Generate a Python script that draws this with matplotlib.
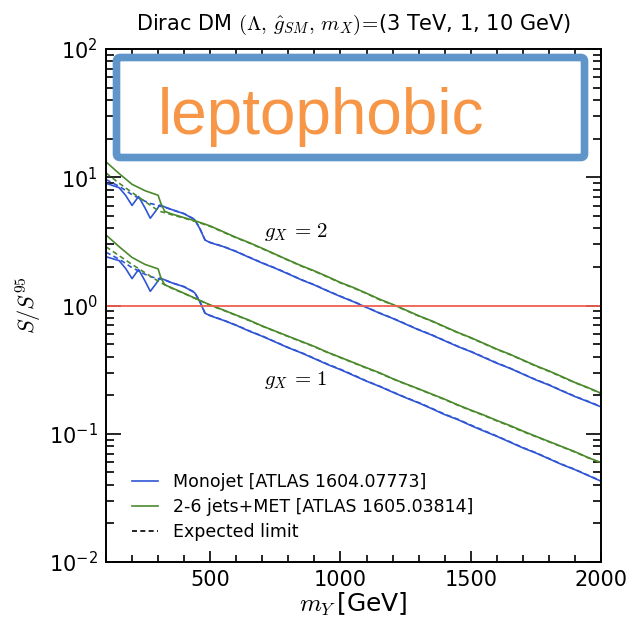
import matplotlib
matplotlib.use("Agg")
import matplotlib.pyplot as plt
import matplotlib.patches as mpatches
from matplotlib.ticker import MultipleLocator, LogLocator, NullFormatter

# ---------------- data ----------------
mass = [100, 150, 200, 250, 300, 310, 325, 350, 400, 450, 500, 550, 600, 650, 700,
        750, 800, 850, 900, 950, 1000, 1050, 1100, 1150, 1200, 1250, 1300, 1350,
        1400, 1450, 1500, 1550, 1600, 1650, 1700, 1750, 1800, 1850, 1900, 1950, 2000]

# 2-6 jets + MET, observed, g_X = 2
jets_obs_g2 = [13.2, 10.7, 8.81, 7.85, 7.24, 6.31, 5.43, 5.19, 4.84, 4.52, 4.17, 3.76,
               3.39, 3.09, 2.79, 2.51, 2.26, 2.04, 1.86, 1.68, 1.51, 1.38, 1.245, 1.12,
               1.02, 0.923, 0.832, 0.759, 0.684, 0.617, 0.562, 0.507, 0.457, 0.417,
               0.376, 0.339, 0.309, 0.279, 0.251, 0.229, 0.207]
# 2-6 jets + MET, expected, g_X = 2
jets_exp_g2 = [10.8, 9.0, 7.6, 6.46, 5.5, 5.4, 5.3, 5.12, 4.80, 4.48, 4.14, 3.73,
               3.37, 3.07, 2.77, 2.50, 2.25, 2.03, 1.85, 1.67, 1.50, 1.37, 1.24, 1.11,
               1.015, 0.918, 0.828, 0.755, 0.680, 0.614, 0.559, 0.504, 0.455, 0.415,
               0.374, 0.337, 0.307, 0.277, 0.250, 0.228, 0.206]

mass_mono = [100, 150, 175, 200, 225, 250, 270, 290, 307, 330, 350, 400, 440, 460, 480,
             500, 550, 600, 650, 700, 750, 800, 850, 900, 950, 1000, 1050, 1100, 1150,
             1200, 1250, 1300, 1350, 1400, 1450, 1500, 1550, 1600, 1650, 1700, 1750,
             1800, 1850, 1900, 1950, 2000]
# Monojet, observed, g_X = 2
mono_obs_g2 = [8.97, 8.3, 7.24, 6.03, 7.08, 5.75, 4.79, 5.43, 6.08, 5.82, 5.62, 5.19,
               4.68, 3.98, 3.24, 3.09, 2.88, 2.63, 2.37, 2.14, 1.95, 1.76, 1.585, 1.445,
               1.30, 1.175, 1.07, 0.966, 0.871, 0.794, 0.716, 0.646, 0.589, 0.531,
               0.479, 0.437, 0.394, 0.355, 0.324, 0.292, 0.263, 0.240, 0.216, 0.195,
               0.178, 0.162]
# Monojet, expected, g_X = 2
mono_exp_g2 = [9.6, 8.5, 7.9, 7.3, 6.9, 6.5, 6.25, 6.1, 5.95, 5.8, 5.6, 5.2,
               4.7, 4.0, 3.25, 3.1, 2.89, 2.64, 2.38, 2.15, 1.96, 1.77, 1.59, 1.45,
               1.305, 1.18, 1.075, 0.970, 0.875, 0.797, 0.719, 0.649, 0.591, 0.533,
               0.481, 0.439, 0.396, 0.357, 0.325, 0.293, 0.264, 0.241, 0.217, 0.196,
               0.179, 0.163]

# 2-6 jets + MET, observed, g_X = 1
jets_obs_g1 = [3.55, 2.88, 2.37, 2.09, 1.93, 1.66, 1.45, 1.38, 1.245, 1.12, 1.01, 0.923,
               0.841, 0.767, 0.692, 0.631, 0.575, 0.525, 0.479, 0.432, 0.394, 0.359,
               0.327, 0.299, 0.269, 0.245, 0.224, 0.204, 0.186, 0.168, 0.153, 0.140,
               0.127, 0.116, 0.105, 0.0955, 0.0871, 0.0794, 0.0724, 0.0653, 0.0596]
# 2-6 jets + MET, expected, g_X = 1
jets_exp_g1 = [2.87, 2.45, 2.09, 1.80, 1.55, 1.50, 1.46, 1.37, 1.24, 1.115, 1.005, 0.918,
               0.837, 0.763, 0.689, 0.628, 0.572, 0.522, 0.477, 0.430, 0.392, 0.357,
               0.325, 0.297, 0.268, 0.244, 0.223, 0.203, 0.185, 0.167, 0.152, 0.139,
               0.126, 0.115, 0.104, 0.095, 0.0866, 0.079, 0.072, 0.065, 0.0593]
# Monojet, observed, g_X = 1
mono_obs_g1 = [2.40, 2.24, 1.95, 1.62, 1.91, 1.55, 1.29, 1.46, 1.64, 1.57, 1.51, 1.40,
               1.26, 1.07, 0.871, 0.832, 0.767, 0.700, 0.631, 0.575, 0.519, 0.468,
               0.427, 0.385, 0.347, 0.316, 0.285, 0.257, 0.234, 0.211, 0.191, 0.174,
               0.157, 0.141, 0.129, 0.116, 0.105, 0.0955, 0.0861, 0.0776, 0.0708,
               0.0638, 0.0575, 0.0525, 0.0473, 0.0427]
# Monojet, expected, g_X = 1
mono_exp_g1 = [2.6, 2.3, 2.13, 1.97, 1.86, 1.75, 1.68, 1.64, 1.61, 1.57, 1.51, 1.40,
               1.27, 1.08, 0.875, 0.836, 0.770, 0.703, 0.634, 0.578, 0.521, 0.470,
               0.429, 0.387, 0.349, 0.318, 0.287, 0.258, 0.235, 0.212, 0.192, 0.175,
               0.158, 0.142, 0.130, 0.117, 0.106, 0.0960, 0.0866, 0.0780, 0.0711,
               0.0641, 0.0578, 0.0527, 0.0475, 0.0429]

legend_labels = ["Monojet [ATLAS 1604.07773]", "2-6 jets+MET [ATLAS 1605.03814]",
                 "Expected limit"]
curve_labels = [r"$g_X\,=\,2$", r"$g_X\,=\,1$"]
label_mass = [830, 830]
label_value = [3.74, 0.262]

# ---------------- styling ----------------
BLUE = "#2f55d4"
GREEN = "#4b8a2c"
RED = "#f0604f"

plt.rcParams["mathtext.fontset"] = "dejavusans"

fig = plt.figure(figsize=(6.32, 6.18), dpi=100)
ax = fig.add_axes([106/632, 1-562/618, (601-106)/632, (562-49)/618])

lw = 1.2
for obs, exp in [(mono_obs_g2, mono_exp_g2), (mono_obs_g1, mono_exp_g1)]:
    ax.plot(mass_mono, exp, color=BLUE, lw=lw, ls=(0, (3, 2)))
    ax.plot(mass_mono, obs, color=BLUE, lw=lw)
for obs, exp in [(jets_obs_g2, jets_exp_g2), (jets_obs_g1, jets_exp_g1)]:
    ax.plot(mass, exp, color=GREEN, lw=lw, ls=(0, (3, 2)))
    ax.plot(mass, obs, color=GREEN, lw=lw)

ax.axhline(1.0, color=RED, lw=1.3)

ax.set_yscale("log")
ax.set_xlim(100, 2000)
ax.set_ylim(1e-2, 1e2)
ax.xaxis.set_major_locator(MultipleLocator(500))
ax.xaxis.set_minor_locator(MultipleLocator(100))
ax.yaxis.set_major_locator(LogLocator(base=10))
ax.yaxis.set_minor_locator(LogLocator(base=10, subs=range(2, 10)))
ax.yaxis.set_minor_formatter(NullFormatter())
ax.set_xticks([500, 1000, 1500, 2000])

ax.tick_params(which="both", direction="in", top=True, right=True, labelsize=15,
               width=1.2, colors="black")
ax.tick_params(axis="x", which="major", length=8, pad=6)
ax.tick_params(axis="x", which="minor", length=5)
ax.tick_params(axis="y", which="major", length=11, pad=6)
ax.tick_params(axis="y", which="minor", length=6)
for s in ax.spines.values():
    s.set_linewidth(1.4)

for lab, xm, yv in zip(curve_labels, label_mass, label_value):
    ax.text(xm, yv, lab, fontsize=15, ha="center", va="center",
            math_fontfamily="cm")

ax.set_xlabel(r"$m_Y\,$[GeV]", fontsize=18, math_fontfamily="cm", labelpad=0)
ax.set_ylabel(r"$S/S^{95}$", fontsize=16, labelpad=4, math_fontfamily="cm")
ax.set_title(r"Dirac DM $(\Lambda,\,\hat{g}_{SM},\,m_X)\!=\!$(3 TeV, 1, 10 GeV)",
             fontsize=15, pad=14, math_fontfamily="cm")

handles = [plt.Line2D([], [], color=BLUE, lw=lw),
           plt.Line2D([], [], color=GREEN, lw=lw),
           plt.Line2D([], [], color="black", lw=lw, ls=(0, (3, 2)))]
ax.legend(handles, legend_labels, loc="lower left", frameon=False, fontsize=12.5,
          handlelength=1.5, handletextpad=0.9, labelspacing=0.42,
          bbox_to_anchor=(0.02, 0.01))

# overlay box with annotation
box = mpatches.FancyBboxPatch((116.5/632, 1-157.5/618), (584.5-116.5)/632,
                              (157.5-57.5)/618,
                              boxstyle="round,pad=0,rounding_size=0.006",
                              transform=fig.transFigure, facecolor="none",
                              edgecolor="#5f95c9", lw=5.5, zorder=10)
fig.patches.append(box)
fig.text(158/632, 1-134/618, "leptophobic", fontsize=46, color="#f79646",
         family="Liberation Sans", ha="left", va="baseline", zorder=11)

fig.savefig("out.png", dpi=100)
